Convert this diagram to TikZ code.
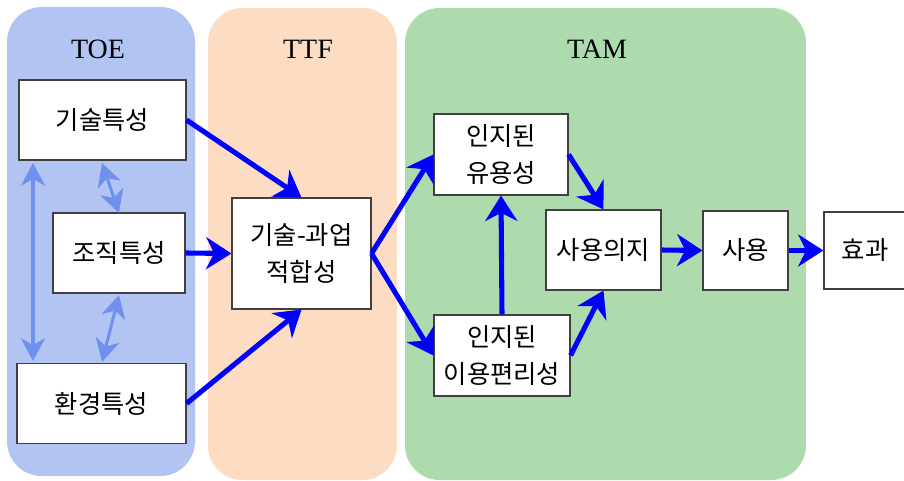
\documentclass[tikz,border=0pt]{standalone}
\usepackage{fontspec}
\setmainfont{Liberation Serif}
\newfontfamily\kor{Noto Sans CJK KR}
\usetikzlibrary{arrows.meta}
\definecolor{toecol}{HTML}{B2C5F2}
\definecolor{ttfcol}{HTML}{FCDCC3}
\definecolor{tamcol}{HTML}{AEDBAE}
\definecolor{lightarr}{HTML}{7090EE}
\definecolor{boxline}{HTML}{404040}
\begin{document}
\begin{tikzpicture}[x=0.75pt,y=-0.75pt,
  panel/.style={rounded corners=26pt, draw=none},
  kbox/.style={draw=boxline, line width=0.8pt, fill=white, inner sep=0pt, align=center,
    font=\kor\fontsize{19}{28}\selectfont},
  ptitle/.style={font=\fontsize{21}{24}\selectfont},
  flow/.style={draw=blue, line width=3.8pt, -{Stealth[length=19pt,width=24pt,inset=6pt]}},
  rel/.style={draw=lightarr, line width=2.3pt, {Stealth[length=17pt,width=18pt,inset=5pt]}-{Stealth[length=17pt,width=18pt,inset=5pt]}}
]
\useasboundingbox (0,0) rectangle (904,481);
% panels
\fill[toecol, panel] (7,7) rectangle (195,476);
\fill[ttfcol, panel] (208,8) rectangle (397,480);
\fill[tamcol, panel] (405,8) rectangle (806,480);
\node[ptitle] (ttoe) at (98,49) {TOE};
\node[ptitle] (tttf) at (308,49) {TTF};
\node[ptitle] (ttam) at (597,49) {TAM};
% boxes
\node[kbox, minimum width=167*0.75pt, minimum height=80*0.75pt] (tech) at (102.5,120) {기술특성};
\node[kbox, minimum width=132*0.75pt, minimum height=80*0.75pt] (org) at (119,253) {조직특성};
\node[kbox, minimum width=169*0.75pt, minimum height=80*0.75pt] (env) at (101.5,403.5) {환경특성};
\node[kbox, minimum width=139*0.75pt, minimum height=111*0.75pt] (ttf) at (301.5,253.5) {기술-과업\\적합성};
\node[kbox, minimum width=134*0.75pt, minimum height=81*0.75pt] (pu) at (501,154.5) {인지된\\유용성};
\node[kbox, minimum width=136*0.75pt, minimum height=81*0.75pt] (peou) at (502,355.5) {인지된\\이용편리성};
\node[kbox, minimum width=115*0.75pt, minimum height=80*0.75pt] (bi) at (603.5,250) {사용의지};
\node[kbox, minimum width=85*0.75pt, minimum height=79*0.75pt] (use) at (745.5,250.5) {사용};
\node[kbox, minimum width=82*0.75pt, minimum height=77*0.75pt] (eff) at (865,250.5) {효과};
% coordinates for relation arrows
\coordinate (t1) at (33,163);
\coordinate (e1) at (33,361);
\coordinate (t2) at (102,163);
\coordinate (o2) at (119,213);
\coordinate (o3) at (119,295);
\coordinate (e3) at (102,362);
\draw[rel] (t1) -- (e1);
\draw[rel] (t2) -- (o2);
\draw[rel] (o3) -- (e3);
% flows
\draw[flow] (tech.east) -- (ttf.north);
\draw[flow] (org.east) -- (ttf.west);
\draw[flow] (env.east) -- (ttf.south);
\draw[flow] (ttf.east) -- (pu.west);
\draw[flow] (ttf.east) -- (peou.west);
\draw[flow] (pu.east) -- (bi.north);
\draw[flow] (peou.north) -- (pu.south);
\draw[flow] (peou.east) -- (bi.south);
\draw[flow] (bi.east) -- (use.west);
\draw[flow] (use.east) -- (eff.west);
\end{tikzpicture}
\end{document}
